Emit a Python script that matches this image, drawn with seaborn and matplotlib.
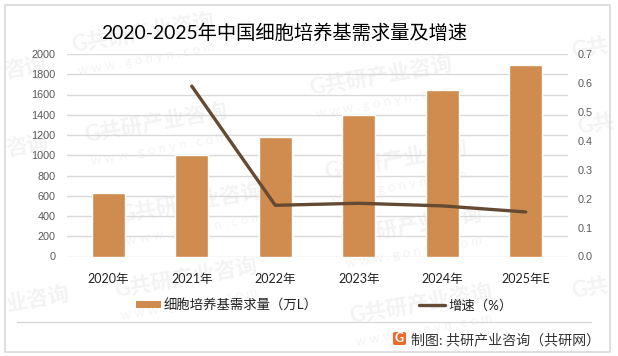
import numpy as np
import pandas as pd
import matplotlib
matplotlib.use("Agg")
import matplotlib.pyplot as plt
from matplotlib.patches import Rectangle, FancyBboxPatch
from matplotlib.lines import Line2D
import seaborn as sns

years = ["2020年", "2021年", "2022年", "2023年", "2024年", "2025年E"]
demand = [625, 1000, 1180, 1400, 1640, 1892]
growth = [np.nan, 0.589, 0.177, 0.184, 0.175, 0.154]
left_ticks = [0, 200, 400, 600, 800, 1000, 1200, 1400, 1600, 1800, 2000]
right_ticks = [0.0, 0.1, 0.2, 0.3, 0.4, 0.5, 0.6, 0.7]
title = "2020-2025年中国细胞培养基需求量及增速"
bar_label = "细胞培养基需求量（万L）"
line_label = "增速（%）"
credit = "制图: 共研产业咨询（共研网）"
mark_cn = "共研产业咨询"
mark_en = "w w w . g o n y n . c o m"

sns.set_theme(style="white")
CJK = ["Lato", "Noto Sans CJK SC", "DejaVu Sans"]
plt.rcParams["font.family"] = CJK

W, H = 618, 356
fig = plt.figure(figsize=(W / 100, H / 100), dpi=100, facecolor="white")
ax = fig.add_axes([66.5 / W, 1 - 256.5 / H, 501 / W, 202.5 / H])
ax.set_zorder(2)
ax.patch.set_alpha(0)

df = pd.DataFrame({"year": years, "demand": demand, "growth": growth})
sns.barplot(data=df, x="year", y="demand", color="#D08B4E", saturation=1,
            width=0.4, ax=ax, zorder=3)
ax.set_xlim(-0.5, 5.5)
ax.set_ylim(0, 2000)
ax.set_yticks(left_ticks)
ax.set_xlabel("")
ax.set_ylabel("")
ax.grid(axis="y", color="#D9D9D9", lw=1.0, zorder=0)
ax.set_axisbelow(True)
for s in ax.spines.values():
    s.set_visible(False)
ax.tick_params(axis="y", length=0, pad=8, labelsize=7.8, labelcolor="#595959")
ax.tick_params(axis="x", length=0, pad=12, labelsize=9, labelcolor="#222222")
for t in ax.get_yticklabels():
    t.set_family(["Liberation Sans"])

ax2 = ax.twinx()
ax2.set_zorder(3)
ax2.patch.set_alpha(0)
sns.lineplot(x=np.arange(len(years)), y=growth, color="#654A33", lw=2.4, ax=ax2,
             solid_capstyle="round", solid_joinstyle="round", errorbar=None)
ax2.set_ylim(0, 0.7)
ax2.set_yticks(right_ticks)
ax2.set_yticklabels([f"{v:.1f}" for v in right_ticks])
ax2.set_ylabel("")
ax2.grid(False)
for s in ax2.spines.values():
    s.set_visible(False)
ax2.tick_params(axis="y", length=0, pad=7.5, labelsize=7.8, labelcolor="#595959")
for t in ax2.get_yticklabels():
    t.set_family(["Liberation Sans"])

def px(x, y):
    return x / W, 1 - y / H

# watermarks behind everything
for x, y in [(72, 45), (85, 135), (120, 215), (310, 88), (325, 172),
             (115, 290), (340, 238), (350, 316)]:
    fx, fy = px(x, y)
    fig.text(fx, fy, "G" + mark_cn, fontsize=15.5, fontweight="bold", color="#000000",
             alpha=0.05, rotation=10, rotation_mode="anchor", ha="left", va="center", zorder=0.5)
    fx, fy = px(x + 6, y + 26)
    fig.text(fx, fy, mark_en, fontsize=9.5, color="#000000",
             alpha=0.05, rotation=10, rotation_mode="anchor", ha="left", va="center", zorder=0.5)
for x, y, s in [(4, 72, "咨询"), (6, 150, "咨询"), (6, 305, "业咨询"),
                (572, 52, "G共"), (578, 128, "G共"), (572, 292, "G共")]:
    fx, fy = px(x, y)
    fig.text(fx, fy, s, fontsize=15.5, fontweight="bold", color="#000000",
             alpha=0.05, rotation=10, rotation_mode="anchor", ha="left", va="center", zorder=0.5)

# outer frame and footer rule
fig.add_artist(Rectangle(px(4.5, 352), 605 / W, 347 / H, transform=fig.transFigure,
                         fill=False, ec="#D9D9D9", lw=1.2, zorder=1))
fig.add_artist(Line2D([16.5 / W, 591 / W], [1 - 322 / H] * 2, color="#D9D9D9", lw=1, zorder=1))

tx, ty = px(284.5, 33)
fig.text(tx, ty, title, fontsize=13.9, color="#000000", ha="center", va="center")

# manual legend
fig.add_artist(Rectangle(px(136, 308), 25 / W, 7 / H, transform=fig.transFigure,
                         fc="#D08B4E", ec="none", zorder=4))
tx, ty = px(163.5, 305)
fig.text(tx, ty, bar_label, fontsize=9.6, color="#222222", ha="left", va="center")
fig.add_artist(Line2D([419 / W, 445 / W], [1 - 304.5 / H] * 2, color="#654A33", lw=2.4,
                      solid_capstyle="round", zorder=4))
tx, ty = px(448, 305)
fig.text(tx, ty, line_label, fontsize=9.6, color="#222222", ha="left", va="center")

# credit with logo
fig.add_artist(FancyBboxPatch(px(393, 345), 13 / W, 13 / H, transform=fig.transFigure,
                              boxstyle="round,pad=0,rounding_size=0.004",
                              fc="#EE6A2C", ec="none", zorder=4))
tx, ty = px(399.5, 338.5)
fig.text(tx, ty, "G", fontsize=9, fontweight="bold", color="white", ha="center", va="center", zorder=5)
tx, ty = px(411, 339)
fig.text(tx, ty, credit, fontsize=10.1, color="#333333", ha="left", va="center")

fig.savefig("out.png", dpi=100, facecolor="white")
